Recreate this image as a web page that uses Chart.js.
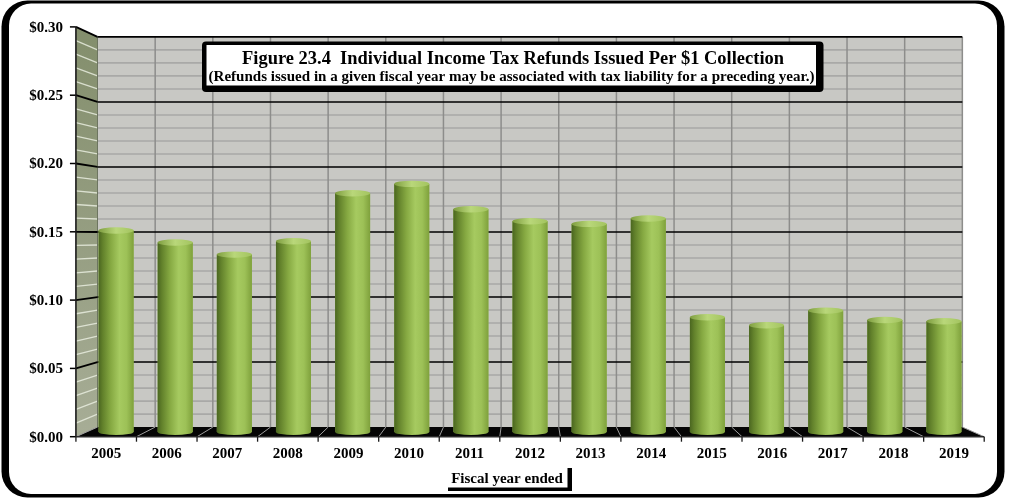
<!DOCTYPE html>
<html>
<head>
<meta charset="utf-8">
<script src="https://cdn.jsdelivr.net/npm/chart.js@4.4.1/dist/chart.umd.min.js"></script>
<style>
  html, body { margin: 0; padding: 0; background: #fff; }
  #refunds { display: block; }
</style>
</head>
<body>
<canvas id="refunds" width="1009" height="498"></canvas>
<script>
/* ── Data ─────────────────────────────────────────────────────────────── */
const years = ['2005', '2006', '2007', '2008', '2009', '2010', '2011', '2012',
               '2013', '2014', '2015', '2016', '2017', '2018', '2019'];
const refundsPerDollar = [0.151, 0.142, 0.133, 0.143, 0.179, 0.186, 0.167, 0.158,
                          0.156, 0.160, 0.086, 0.080, 0.091, 0.084, 0.083];
const yTickValues = [0, 0.05, 0.10, 0.15, 0.20, 0.25, 0.30];
const yTickLabels = ['$0.00', '$0.05', '$0.10', '$0.15', '$0.20', '$0.25', '$0.30'];
const MINOR_STEP = 0.01;

const TITLE = 'Figure 23.4  Individual Income Tax Refunds Issued Per $1 Collection';
const SUBTITLE = '(Refunds issued in a given fiscal year may be associated with tax liability for a preceding year.)';
const X_TITLE = 'Fiscal year ended';

/* ── 3D look: the bars sit on a middle plane, walls behind, axes in front ── */
const SERIF = '"Liberation Serif", "Times New Roman", "DejaVu Serif", serif';
const VP = { x: 527, y: 236 };     // point the depth scaling converges to
const DEPTH_BACK = 0.975;
const DEPTH_FRONT = 1.024;
const BAR_PCT = 0.592;

function proj(x, y, s) {
  return [VP.x + (x - VP.x) * s, VP.y + (y - VP.y) * s];
}

function line(ctx, p, q, color, width) {
  ctx.beginPath();
  ctx.moveTo(p[0], p[1]);
  ctx.lineTo(q[0], q[1]);
  ctx.strokeStyle = color;
  ctx.lineWidth = width;
  ctx.stroke();
}

function poly(ctx, pts, fill) {
  ctx.beginPath();
  ctx.moveTo(pts[0][0], pts[0][1]);
  for (let i = 1; i < pts.length; i++) ctx.lineTo(pts[i][0], pts[i][1]);
  ctx.closePath();
  ctx.fillStyle = fill;
  ctx.fill();
}

// centred text squeezed or stretched to a given width
function fitText(ctx, text, cx, y, width) {
  const sx = width / ctx.measureText(text).width;
  ctx.save();
  ctx.translate(cx, y);
  ctx.scale(sx, 1);
  ctx.textAlign = 'center';
  ctx.fillText(text, 0, 0);
  ctx.restore();
}

function cylinderGradient(ctx, left, right) {
  const g = ctx.createLinearGradient(left, 0, right, 0);
  g.addColorStop(0.00, '#4a6620');
  g.addColorStop(0.12, '#62812b');
  g.addColorStop(0.35, '#86a942');
  g.addColorStop(0.60, '#a6ca60');
  g.addColorStop(0.80, '#9dc157');
  g.addColorStop(1.00, '#7fa13c');
  return g;
}

function capGradient(ctx, left, right) {
  const g = ctx.createLinearGradient(left, 0, right, 0);
  g.addColorStop(0.00, '#7f9e40');
  g.addColorStop(0.50, '#b9d77a');
  g.addColorStop(1.00, '#a3c45f');
  return g;
}

const wall3d = {
  id: 'wall3d',

  beforeDraw(chart) {
    const ctx = chart.ctx;
    ctx.save();
    // rounded frame with a heavier left and right edge
    ctx.fillStyle = '#000';
    ctx.beginPath();
    ctx.roundRect(1.5, 0.5, 1003, 497, 26);
    ctx.fill();
    ctx.fillStyle = '#fff';
    ctx.beginPath();
    ctx.roundRect(9, 3.5, 988, 490.5, 22);
    ctx.fill();
    ctx.restore();
  },

  beforeDatasetsDraw(chart) {
    const ctx = chart.ctx;
    const a = chart.chartArea;
    const xs = chart.scales.x;
    const ys = chart.scales.y;
    const n = years.length;
    const cat = (a.right - a.left) / n;
    ctx.save();

    // back wall
    const bTL = proj(a.left, a.top, DEPTH_BACK);
    const bBR = proj(a.right, a.bottom, DEPTH_BACK);
    ctx.fillStyle = '#c8c8c4';
    ctx.fillRect(bTL[0], bTL[1], bBR[0] - bTL[0], bBR[1] - bTL[1]);

    // left side wall
    const fTL = proj(a.left, a.top, DEPTH_FRONT);
    const fBL = proj(a.left, a.bottom, DEPTH_FRONT);
    const bBL = proj(a.left, a.bottom, DEPTH_BACK);
    const side = ctx.createLinearGradient(0, fTL[1], 0, fBL[1]);
    side.addColorStop(0, '#838e6c');
    side.addColorStop(1, '#a7ad96');
    poly(ctx, [fTL, bTL, bBL, fBL], side);

    // floor
    const fBR = proj(a.right, a.bottom, DEPTH_FRONT);
    poly(ctx, [bBL, bBR, fBR, fBL], '#050505');

    // minor horizontal lines
    const minorCount = Math.round(ys.max / MINOR_STEP);
    for (let k = 1; k < minorCount; k++) {
      if (k % 5 === 0) continue;
      const y = ys.getPixelForValue(k * MINOR_STEP);
      line(ctx, proj(a.left, y, DEPTH_BACK), proj(a.right, y, DEPTH_BACK), '#a9a9a7', 1.6);
      line(ctx, proj(a.left, y, DEPTH_FRONT), proj(a.left, y, DEPTH_BACK), 'rgba(232,236,222,0.85)', 1.3);
    }

    // category dividers on the back wall and across the floor
    for (let i = 0; i <= n; i++) {
      const x = a.left + i * cat;
      if (i > 0) line(ctx, proj(x, a.top, DEPTH_BACK), proj(x, a.bottom, DEPTH_BACK), '#8d8d8b', 1.5);
      line(ctx, proj(x, a.bottom, DEPTH_BACK), proj(x, a.bottom, DEPTH_FRONT), '#9c9c9c', 1);
    }
    line(ctx, bTL, bBL, '#6d7560', 1);

    // major lines, front axis ticks and labels
    ctx.font = 'bold 15px ' + SERIF;
    ctx.fillStyle = '#000';
    ctx.textAlign = 'right';
    ctx.textBaseline = 'middle';
    yTickValues.forEach((v, i) => {
      const y = ys.getPixelForValue(v);
      const f = proj(a.left, y, DEPTH_FRONT);
      if (v > 0) {
        line(ctx, proj(a.left, y, DEPTH_BACK), proj(a.right, y, DEPTH_BACK), '#000', 1.6);
        line(ctx, f, proj(a.left, y, DEPTH_BACK), '#000', 1.8);
      }
      line(ctx, [f[0] - 6, f[1]], f, '#000', 1.5);
      ctx.fillText(yTickLabels[i], f[0] - 13, f[1] + 1);
    });

    // front axis lines
    line(ctx, fTL, fBL, '#1a1a1a', 1.6);
    line(ctx, fBL, fBR, '#2a2a2a', 1.6);
    for (let i = 0; i <= n; i++) {
      const p = proj(a.left + i * cat, a.bottom, DEPTH_FRONT);
      line(ctx, p, [p[0], p[1] + 5], '#1a1a1a', 1.3);
    }

    // category labels
    ctx.textAlign = 'center';
    years.forEach((yr, i) => {
      const p = proj(xs.getPixelForValue(i), a.bottom, DEPTH_FRONT);
      ctx.fillText(yr, p[0], 454);
    });
    ctx.restore();
  },

  afterDatasetsDraw(chart) {
    const ctx = chart.ctx;
    const meta = chart.getDatasetMeta(0);
    ctx.save();
    meta.data.forEach(bar => {
      const { x, y, base, width } = bar.getProps(['x', 'y', 'base', 'width'], true);
      const l = x - width / 2, r = x + width / 2;
      const body = cylinderGradient(ctx, l, r);
      // shaded body over the plain bar
      ctx.fillStyle = body;
      ctx.fillRect(l, y, width, base - y);
      // rounded bottom
      ctx.beginPath();
      ctx.ellipse(x, base, width / 2, 3, 0, 0, Math.PI);
      ctx.fill();
      // top cap
      ctx.beginPath();
      ctx.ellipse(x, y, width / 2, 3.2, 0, 0, Math.PI * 2);
      ctx.fillStyle = capGradient(ctx, l, r);
      ctx.fill();
    });
    ctx.restore();
  },

  afterDraw(chart) {
    const ctx = chart.ctx;
    ctx.save();
    // title box with a drop-shadow edge
    ctx.fillStyle = '#000';
    ctx.beginPath();
    ctx.roundRect(202, 41.5, 621.5, 50.5, 4);
    ctx.fill();
    ctx.fillStyle = '#fff';
    ctx.fillRect(206.5, 45, 609.5, 40.5);

    ctx.fillStyle = '#000';
    ctx.textBaseline = 'alphabetic';
    ctx.font = 'bold 18px ' + SERIF;
    fitText(ctx, TITLE, 513, 63.5, 542);
    ctx.font = 'bold 14px ' + SERIF;
    fitText(ctx, SUBTITLE, 511.5, 80.5, 606);

    // axis title with its underline box
    ctx.textAlign = 'center';
    ctx.font = 'bold 15px ' + SERIF;
    ctx.fillText(X_TITLE, 507, 482.5);
    ctx.fillRect(448, 487.5, 124, 3.5);
    ctx.fillRect(567.5, 468, 4.5, 23);
    ctx.restore();
  }
};

new Chart(document.getElementById('refunds'), {
  type: 'bar',
  data: {
    labels: years,
    datasets: [{
      data: refundsPerDollar,
      borderWidth: 0,
      categoryPercentage: 1,
      barPercentage: BAR_PCT,
      backgroundColor: '#94b84d'
    }]
  },
  options: {
    responsive: false,
    animation: false,
    devicePixelRatio: 1,
    layout: { padding: { left: 86.5, right: 35.5, top: 31.8, bottom: 66 } },
    plugins: {
      legend: { display: false },
      tooltip: { enabled: false },
      title: { display: false }
    },
    scales: {
      x: { display: false },
      y: { display: false, min: 0, max: 0.30 }
    }
  },
  plugins: [wall3d]
});
</script>
</body>
</html>
